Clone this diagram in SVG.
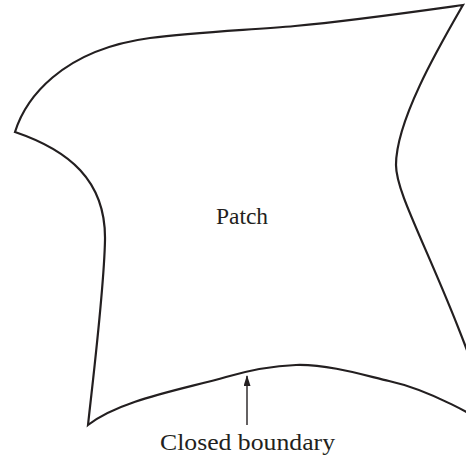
<svg xmlns="http://www.w3.org/2000/svg" width="466" height="457" viewBox="0 0 466 457">
  <style>
    .edge { fill: none; stroke: #231f20; stroke-width: 2.2; stroke-linejoin: miter; }
    .lead { stroke: #231f20; stroke-width: 1.4; fill: none; }
    .label { font-family: "Liberation Serif", "Times New Roman", serif; fill: #231f20; text-anchor: middle; }
  </style>
  <defs>
    <marker id="head" markerWidth="11" markerHeight="7" refX="10" refY="3.5" orient="auto" markerUnits="userSpaceOnUse" viewBox="0 0 11 7">
      <path d="M0,0 L11,3.5 L0,7 Z" fill="#231f20"/>
    </marker>
  </defs>
  <rect width="466" height="457" fill="#ffffff"/>

  <!-- the patch outline -->
  <g id="patch">
    <path class="edge" d="M15,132 C25,100 60,50 150,38 C195,32 250,30 295,26 C350,21 420,11 463,5
             C440,45 396,120 396,165 C396,200 445,275 495,430
             C480,418 430,390 389,381 C370,377 330,364 296,365
             C270,366 250,370 226,377 C180,390 120,400 88,425
             C94,370 104,290 105,240 C106,180 68,150 15,132 Z"/>
    <text class="label" x="242" y="224" font-size="23.5">Patch</text>
  </g>

  <!-- pointer to the outline -->
  <g id="connectors">
    <line class="lead" x1="247" y1="425" x2="247" y2="376" marker-end="url(#head)"/>
  </g>

  <g id="boundary-label">
    <text class="label" x="247.5" y="450" font-size="24" textLength="175" lengthAdjust="spacingAndGlyphs">Closed boundary</text>
  </g>
</svg>
